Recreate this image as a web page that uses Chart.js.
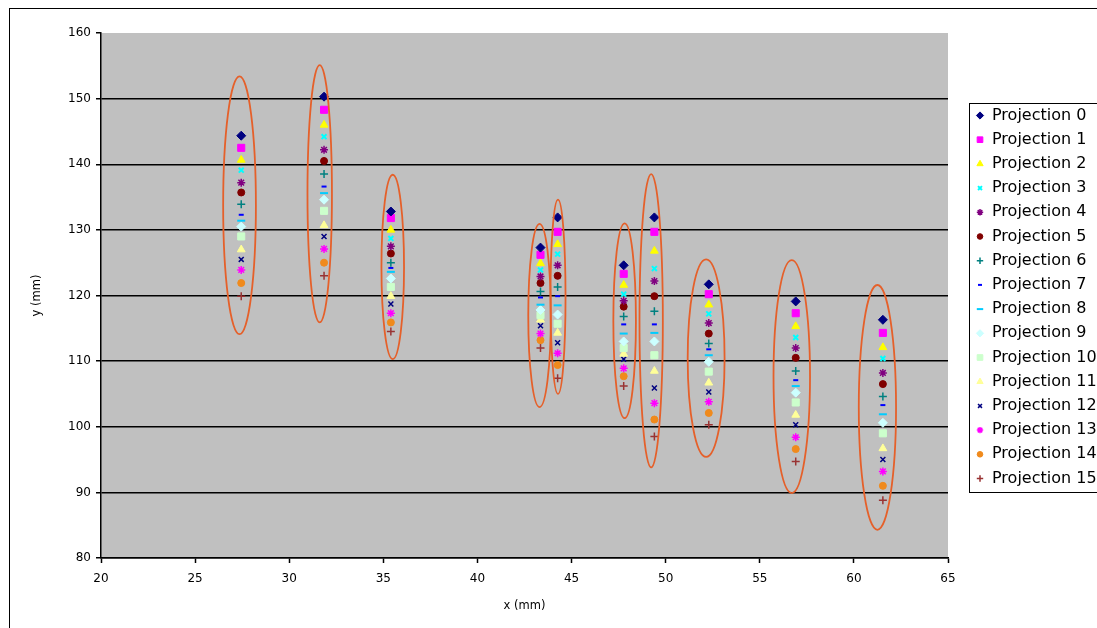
<!DOCTYPE html>
<html>
<head>
<meta charset="utf-8">
<script src="https://cdn.jsdelivr.net/npm/chart.js@4.4.1/dist/chart.umd.min.js"></script>
<style>
  html, body { margin: 0; padding: 0; background: #fff; overflow: hidden; }
  canvas { display: block; }
</style>
</head>
<body>
<canvas id="chart" width="1097" height="628"></canvas>
<script>
// x position (mm) of each marker column
const columnX = [27.45, 31.85, 35.4, 43.35, 44.26, 47.77, 49.4, 52.29, 56.91, 61.54];

// y position (mm) of each projection, one value per column
const projection0  = [144.35, 150.3, 132.8, 127.3, 131.9, 124.6, 131.9, 121.7, 119.1, 116.3];
const projection1  = [142.5, 148.3, 131.8, 126.2, 129.7, 123.3, 129.7, 120.2, 117.3, 114.3];
const projection2  = [140.65, 146.0, 130.0, 124.9, 127.8, 121.6, 126.8, 118.6, 115.3, 112.1];
const projection3  = [139.1, 144.2, 128.7, 123.9, 126.3, 120.2, 124.1, 117.2, 113.6, 110.4];
const projection4  = [137.2, 142.2, 127.5, 122.9, 124.6, 119.2, 122.2, 115.8, 112.0, 108.2];
const projection5  = [135.7, 140.5, 126.4, 121.9, 123.0, 118.3, 119.9, 114.2, 110.5, 106.5];
const projection6  = [133.9, 138.5, 125.0, 120.6, 121.3, 116.8, 117.6, 112.7, 108.5, 104.6];
const projection7  = [132.3, 136.6, 124.2, 119.7, 119.9, 115.6, 115.6, 111.8, 107.1, 103.3];
const projection8  = [131.4, 135.6, 123.6, 118.6, 118.5, 114.2, 114.3, 110.9, 106.2, 101.9];
const projection9  = [130.5, 134.6, 122.6, 117.8, 117.1, 113.0, 113.0, 109.9, 105.2, 100.6];
const projection10 = [129.0, 132.9, 121.3, 117.0, 115.7, 112.0, 110.9, 108.4, 103.7, 99.0];
const projection11 = [127.0, 130.7, 119.9, 116.3, 114.3, 111.1, 108.5, 106.7, 101.8, 96.7];
const projection12 = [125.5, 129.0, 118.7, 115.4, 112.8, 110.3, 105.9, 105.3, 100.3, 95.0];
const projection13 = [123.9, 127.1, 117.3, 114.2, 111.2, 108.9, 103.6, 103.8, 98.4, 93.2];
const projection14 = [121.9, 125.0, 115.9, 113.2, 109.4, 107.7, 101.1, 102.1, 96.6, 91.0];
const projection15 = [119.9, 123.0, 114.5, 112.0, 107.4, 106.2, 98.5, 100.3, 94.7, 88.8];

const seriesNames = ['Projection 0', 'Projection 1', 'Projection 2', 'Projection 3',
  'Projection 4', 'Projection 5', 'Projection 6', 'Projection 7', 'Projection 8',
  'Projection 9', 'Projection 10', 'Projection 11', 'Projection 12', 'Projection 13',
  'Projection 14', 'Projection 15'];
const seriesValues = [projection0, projection1, projection2, projection3, projection4,
  projection5, projection6, projection7, projection8, projection9, projection10,
  projection11, projection12, projection13, projection14, projection15];

// envelope drawn around each column (centre and half extents, in mm)
const envelopeX  = [27.36, 31.62, 35.5, 43.3, 44.28, 47.82, 49.23, 52.15, 56.7, 61.25];
const envelopeY  = [133.75, 135.5, 124.35, 116.95, 119.8, 116.15, 116.15, 110.45, 107.65, 102.95];
const envelopeHalfX = [0.87, 0.65, 0.6, 0.6, 0.4, 0.6, 0.62, 0.98, 0.97, 0.99];
const envelopeHalfY = [19.65, 19.6, 14.05, 13.95, 14.8, 14.85, 22.35, 15.05, 17.75, 18.65];

// marker look for each projection
const markerStyles = [
  { shape: 'rectRot',  color: '#000080', r: 4.5 },
  { shape: 'rect',     color: '#FF00FF', r: 5 },
  { shape: 'triangle', color: '#FFFF00', r: 4.5 },
  { shape: 'crossRot', color: '#00FFFF', r: 3.5, line: 2 },
  { shape: 'star',     color: '#800080', r: 4, line: 1.5 },
  { shape: 'circle',   color: '#800000', r: 3.5 },
  { shape: 'cross',    color: '#008080', r: 4, line: 1.5 },
  { shape: 'line',     color: '#0000FF', r: 2.5, line: 2 },
  { shape: 'line',     color: '#00CCFF', r: 4, line: 2 },
  { shape: 'rectRot',  color: '#CCFFFF', r: 4.5 },
  { shape: 'rect',     color: '#CCFFCC', r: 5 },
  { shape: 'triangle', color: '#FFFF99', r: 4.5 },
  { shape: 'crossRot', color: '#000080', r: 3.5, line: 1.5 },
  { shape: 'star',     color: '#FF00FF', r: 4, line: 1.5 },
  { shape: 'circle',   color: '#F08A1C', r: 3.5 },
  { shape: 'cross',    color: '#993333', r: 4, line: 1.5 }
];

const FONT = 'DejaVu Sans';

const datasets = seriesNames.map((name, s) => {
  const m = markerStyles[s];
  return {
    label: name,
    data: columnX.map((x, i) => ({ x: x, y: seriesValues[s][i] })),
    pointStyle: m.shape,
    pointRadius: m.r,
    pointHoverRadius: m.r,
    backgroundColor: m.color,
    borderColor: m.color,
    pointBorderWidth: m.line || 1,
    showLine: false
  };
});

// white page, frame and grey plotting area
const framePlugin = {
  id: 'frame',
  beforeDraw(chart) {
    const ctx = chart.ctx;
    const a = chart.chartArea;
    ctx.save();
    ctx.fillStyle = '#fff';
    ctx.fillRect(0, 0, chart.width, chart.height);
    ctx.strokeStyle = '#000';
    ctx.lineWidth = 1;
    ctx.strokeRect(9.5, 8.5, 1200, 640);
    ctx.fillStyle = '#C0C0C0';
    ctx.fillRect(a.left, a.top, a.right - a.left, a.bottom - a.top);
    ctx.restore();
  }
};

// envelopes around each column of markers
const envelopePlugin = {
  id: 'envelopes',
  afterDatasetsDraw(chart) {
    const ctx = chart.ctx;
    const xs = chart.scales.x, ys = chart.scales.y;
    ctx.save();
    ctx.strokeStyle = '#E5602A';
    ctx.lineWidth = 1.8;
    envelopeX.forEach((cx, i) => {
      const px = xs.getPixelForValue(cx);
      const py = ys.getPixelForValue(envelopeY[i]);
      const rx = Math.abs(xs.getPixelForValue(cx + envelopeHalfX[i]) - px);
      const ry = Math.abs(ys.getPixelForValue(envelopeY[i] + envelopeHalfY[i]) - py);
      ctx.beginPath();
      ctx.ellipse(px, py, rx, ry, 0, 0, Math.PI * 2);
      ctx.stroke();
    });
    ctx.restore();
  }
};

// boxed legend on the right
const legendPlugin = {
  id: 'boxLegend',
  afterDraw(chart) {
    const ctx = chart.ctx;
    ctx.save();
    ctx.strokeStyle = '#000';
    ctx.lineWidth = 1;
    ctx.strokeRect(969.5, 103.5, 200, 389);
    ctx.font = '16px "' + FONT + '"';
    ctx.textBaseline = 'middle';
    chart.data.datasets.forEach((ds, i) => {
      const y = 115.5 + i * 24.2;
      const m = markerStyles[i];
      ctx.fillStyle = m.color;
      ctx.strokeStyle = m.color;
      ctx.lineWidth = m.line || 1;
      Chart.helpers.drawPoint(ctx, {
        pointStyle: m.shape, radius: m.r * 0.8, rotation: 0, borderWidth: m.line || 1
      }, 980, y);
      ctx.fillStyle = '#000';
      ctx.fillText(ds.label, 992, y);
    });
    ctx.restore();
  }
};

new Chart(document.getElementById('chart'), {
  type: 'scatter',
  data: { datasets: datasets },
  plugins: [framePlugin, envelopePlugin, legendPlugin],
  options: {
    responsive: false,
    animation: false,
    events: [],
    layout: { padding: { left: 0, top: 33, right: 149, bottom: 0 } },
    plugins: { legend: { display: false }, tooltip: { enabled: false } },
    scales: {
      x: {
        type: 'linear', position: 'bottom', min: 20, max: 65,
        ticks: { stepSize: 5, color: '#000', font: { family: FONT, size: 12 }, padding: 9, maxRotation: 0 },
        grid: { drawOnChartArea: false, drawTicks: true, tickLength: 5, tickColor: '#000', tickWidth: 1.5 },
        border: { color: '#000', width: 1.5 },
        title: { display: true, text: 'x (mm)', color: '#000', font: { family: FONT, size: 11.5 }, padding: { top: 0, bottom: 15 } },
        afterFit(scale) { scale.height = 70; }
      },
      y: {
        type: 'linear', min: 80, max: 160,
        ticks: { stepSize: 10, color: '#000', font: { family: FONT, size: 12 }, padding: 5 },
        grid: {
          color: (c) => (c.tick && c.tick.value === 160) ? 'rgba(0,0,0,0)' : '#000',
          lineWidth: 1.5, tickLength: 5, tickColor: '#000', tickWidth: 1.5
        },
        border: { color: '#000', width: 1.5 },
        title: { display: true, text: 'y (mm)', color: '#000', font: { family: FONT, size: 11.5 }, padding: { top: 30, bottom: 0 } },
        afterFit(scale) { scale.width = 101; }
      }
    }
  }
});
</script>
</body>
</html>
